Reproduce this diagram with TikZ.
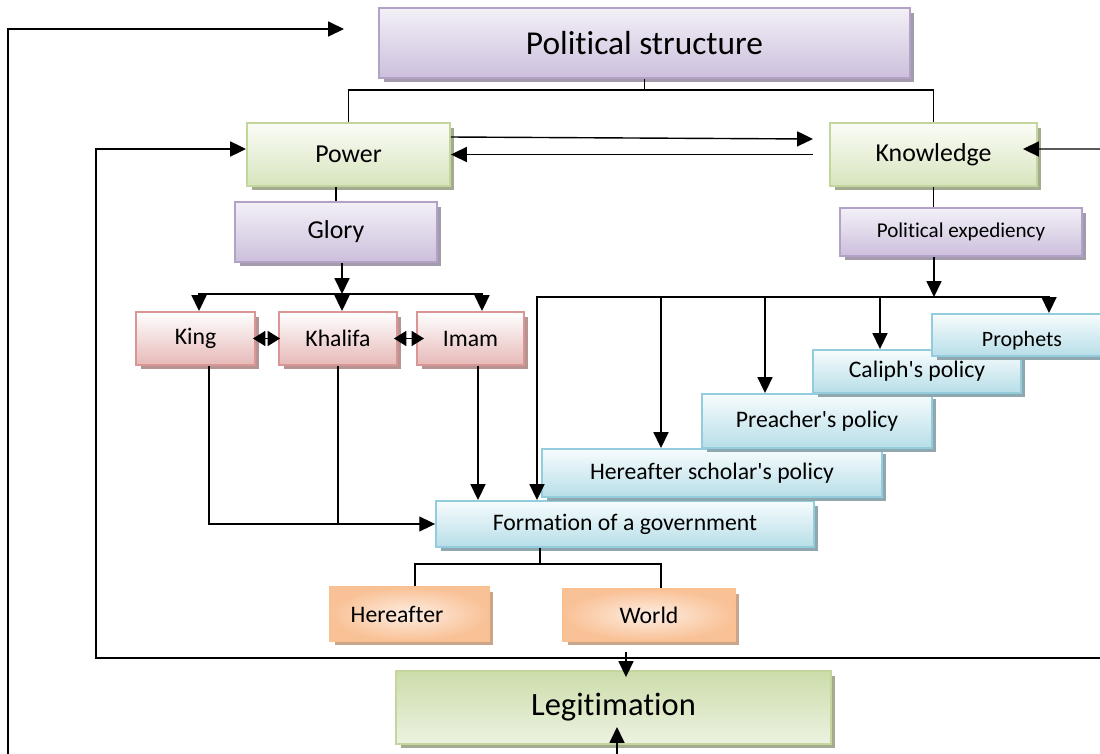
\documentclass[tikz,border=0pt]{standalone}
\usepackage{fontspec}
\setmainfont{Carlito}[Ligatures=TeXOff, RawFeature={-liga;-clig;-calt;-dlig}]
\usetikzlibrary{positioning,calc,arrows.meta,shadows}

\definecolor{purpleline}{HTML}{B3A2C7}
\definecolor{purpletop}{HTML}{F3F0F7}
\definecolor{purplebot}{HTML}{CCBFDC}
\definecolor{purpleshade}{HTML}{A39BAB}
\definecolor{greenline}{HTML}{C3D69B}
\definecolor{greentop}{HTML}{FBFDF7}
\definecolor{greenbot}{HTML}{D7E4BD}
\definecolor{greenshade}{HTML}{A5AB91}
\definecolor{legittop}{HTML}{CCDDAA}
\definecolor{legitbot}{HTML}{ECF2E1}
\definecolor{redline}{HTML}{D99694}
\definecolor{redbot}{HTML}{E6B9B8}
\definecolor{redshade}{HTML}{B59492}
\definecolor{blueline}{HTML}{93CDDD}
\definecolor{bluetop}{HTML}{F7FCFD}
\definecolor{bluebot}{HTML}{B7DEE8}
\definecolor{blueshade}{HTML}{8FA8AF}
\definecolor{orangeline}{HTML}{FAC090}
\definecolor{orangein}{HTML}{FDEEE2}
\definecolor{orangeout}{HTML}{F9C196}
\definecolor{orangeshade}{HTML}{C9A68B}

\tikzset{
    box/.style={draw, line width=1.1pt, inner sep=0pt, font=\fontsize{13.5}{16}\selectfont},
    purplebox/.style={box, draw=purpleline, top color=purpletop, bottom color=purplebot,
        general shadow={fill=purpleshade, shadow xshift=0.09cm, shadow yshift=-0.09cm}},
    greenbox/.style={box, draw=greenline, top color=greentop, bottom color=greenbot,
        general shadow={fill=greenshade, shadow xshift=0.09cm, shadow yshift=-0.09cm}},
    legitbox/.style={box, draw=greenline, top color=legittop, bottom color=legitbot,
        general shadow={fill=greenshade, shadow xshift=0.09cm, shadow yshift=-0.09cm}},
    redbox/.style={box, draw=redline, top color=white, bottom color=redbot,
        general shadow={fill=redshade, shadow xshift=0.09cm, shadow yshift=-0.09cm}},
    bluebox/.style={box, draw=blueline, top color=bluetop, bottom color=bluebot,
        general shadow={fill=blueshade, shadow xshift=0.09cm, shadow yshift=-0.09cm}},
    orangebox/.style={box, draw=orangeline, inner color=orangein, outer color=orangeout,
        general shadow={fill=orangeshade, shadow xshift=0.09cm, shadow yshift=-0.09cm}},
    link/.style={line width=0.8pt},
    arr/.style={link, -{Triangle[length=9pt,width=8.5pt]}},
    dblarr/.style={link, {Triangle[length=7pt,width=8.5pt]}-{Triangle[length=7pt,width=8.5pt]}},
}

\begin{document}
\begin{tikzpicture}[x=0.02cm, y=-0.02cm]
    \useasboundingbox (0,0) rectangle (1100,754);

    \node[purplebox, minimum width=10.62cm, minimum height=1.4cm, font=\fontsize{19}{22}\selectfont] (pol) at (644.5,43) {Political structure};
    \node[greenbox, minimum width=4.06cm, minimum height=1.26cm, font=\fontsize{14.7}{17}\selectfont] (power) at (348.5,154.5) {Power};
    \node[greenbox, minimum width=4.14cm, minimum height=1.26cm, font=\fontsize{14.7}{17}\selectfont] (know) at (933.5,154.5) {Knowledge};
    \node[purplebox, minimum width=4.04cm, minimum height=1.2cm, font=\fontsize{14.7}{17}\selectfont] (glory) at (336,232) {Glory};
    \node[purplebox, minimum width=4.84cm, minimum height=0.96cm, font=\fontsize{12}{14}\selectfont] (exped) at (961,232) {Political expediency};
    \node[redbox, minimum width=2.38cm, minimum height=1.06cm] (king) at (195.5,338.5) {King};
    \node[redbox, minimum width=2.36cm, minimum height=1.06cm] (khalifa) at (338,338.5) {Khalifa};
    \node[redbox, minimum width=2.14cm, minimum height=1.06cm] (imam) at (470.5,338.5) {Imam};
    \node[bluebox, minimum width=7.56cm, minimum height=0.92cm] (formation) at (625,524) {Formation of a government};
    \node[bluebox, minimum width=6.8cm, minimum height=0.96cm] (scholar) at (712,473) {Hereafter scholar's policy};
    \node[bluebox, minimum width=4.6cm, minimum height=1.08cm] (preacher) at (817,421) {Preacher's policy};
    \node[bluebox, minimum width=4.16cm, minimum height=0.86cm] (caliph) at (917,371.5) {Caliph's policy};
    \node[bluebox, minimum width=3.6cm, minimum height=0.84cm, font=\fontsize{12.5}{14}\selectfont] (prophets) at (1022,335) {\raisebox{-0.22cm}[0pt][0pt]{Prophets}};
    \node[orangebox, minimum width=3.18cm, minimum height=1.08cm] (hereafter) at (409.5,614) {Hereafter\hspace*{0.5cm}};
    \node[orangebox, minimum width=3.44cm, minimum height=1.04cm] (world) at (649,615) {World};
    \node[legitbox, minimum width=8.7cm, minimum height=1.46cm, font=\fontsize{18.5}{21}\selectfont] (legit) at (613.5,707.5) {Legitimation};

    \coordinate (topend) at (344,29);
    \coordinate (leftfoot) at (8,754);
    \draw[arr] (leftfoot) |- (topend);

    \draw[link] (pol.south) -- ++(0,11) coordinate (polbar);
    \draw[link] (polbar) -| (power.north);
    \draw[link] (polbar) -| (know.north);

    \coordinate (powtip) at (813,139);
    \coordinate (powtail) at (813,154.5);
    \draw[arr] ([yshift=0.35cm]power.east) -- (powtip);
    \draw[arr] (powtail) -- (power.east);

    \coordinate (rightin) at (1100,149);
    \draw[arr] (rightin) -- ([xshift=-0.3cm,yshift=0.11cm]know.east);

    \coordinate (rightfoot) at (1100,658);
    \draw[arr, line width=1pt] (rightfoot) -- ++(-1004,0) |- ([yshift=0.11cm]power.west);

    \draw[link] (glory.north) -- (glory.north |- power.south);
    \draw[link] (know.south) -- (know.south |- exped.north);

    \coordinate (glorybar) at (342,294);
    \draw[arr] (glory.south -| glorybar) -- (glorybar);
    \draw[arr] (glorybar) -| ([xshift=0.07cm]king.north);
    \draw[arr] (glorybar) -- (glorybar |- khalifa.north);
    \draw[arr] (glorybar) -| ([xshift=0.23cm]imam.north);

    \draw[dblarr] ([xshift=-0.06cm]king.east) -- ([xshift=0.04cm]khalifa.west);
    \draw[dblarr] ([xshift=-0.08cm]khalifa.east) -- ([xshift=0.16cm]imam.west);

    \draw[arr] (king.south) ++(13.5,0) |- (formation.west);
    \draw[link] (khalifa.south) -- (khalifa.south |- formation.west);
    \draw[arr] (imam.south) ++(7.5,0) coordinate (imamdrop) -- (imamdrop |- formation.north);

    \coordinate (expbar) at (934,297);
    \draw[arr] (exped.south -| expbar) -- (expbar);
    \foreach \t/\dx in {formation/-88, scholar/-51, preacher/-52, caliph/-37, prophets/27}
        \draw[arr] (expbar) -| ($(\t.north)+(\dx,0)$);

    \coordinate (formbar) at (540,564);
    \draw[link] (formation.south -| formbar) -- (formbar);
    \draw[link] (formbar) -| ($(hereafter.north)+(5.5,0)$);
    \draw[link] (formbar) -| ($(world.north)+(12,0)$);

    \draw[arr] ($(legit.north)+(12.5,-18)$) -- ++(0,25);
    \coordinate (legitfoot) at (617,754);
    \draw[arr] (legitfoot) -- ++(0,-27);
\end{tikzpicture}
\end{document}
